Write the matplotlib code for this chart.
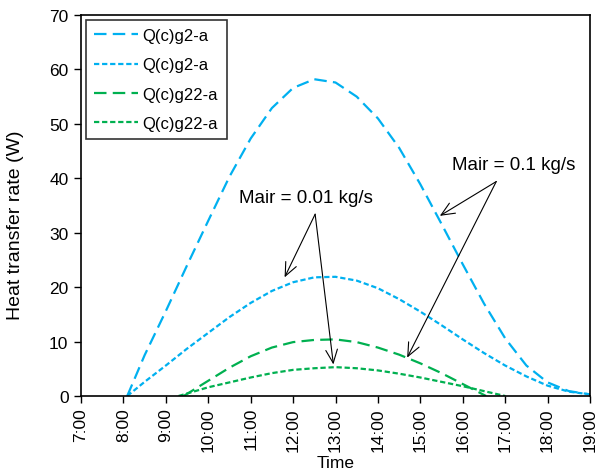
import matplotlib
matplotlib.use('Agg')
import matplotlib.pyplot as plt

plt.rcParams['font.family'] = ['Liberation Sans', 'DejaVu Sans']
plt.rcParams['font.size'] = 12
plt.rcParams['lines.scale_dashes'] = False

## data (time in hours, heat transfer rate in W)
t_g2 = [8.09, 8.5, 9.0, 9.5, 10.0, 10.5, 11.0, 11.5, 12.0, 12.5, 13.0, 13.5, 14.0,
        14.5, 15.0, 15.5, 16.0, 16.5, 17.0, 17.5, 18.0, 18.5, 19.0]
q_g2_01 = [0, 7.5, 15.6, 24, 32.2, 40.3, 47.3, 52.9, 56.6, 58.2, 57.6, 55.0, 51.0,
           45.6, 38.9, 31.6, 24.2, 17.0, 10.6, 5.6, 2.5, 0.9, 0.3]
q_g2_001 = [0, 2.6, 5.6, 8.7, 11.6, 14.5, 17.1, 19.3, 20.9, 21.8, 21.9, 21.2, 19.8,
            17.8, 15.5, 13.0, 10.4, 7.9, 5.6, 3.6, 1.9, 0.8, 0.3]

t_g22_01 = [9.42, 10.0, 10.5, 11.0, 11.5, 12.0, 12.5, 13.0, 13.5, 14.0, 14.5, 15.0,
            15.5, 16.0, 16.55]
q_g22_01 = [0, 2.8, 5.2, 7.3, 8.9, 9.9, 10.3, 10.4, 9.9, 8.9, 7.6, 6.0,
            4.2, 2.2, 0]

t_g22_001 = [9.3, 10.0, 10.5, 11.0, 11.5, 12.0, 12.5, 13.0, 13.5, 14.0, 14.5, 15.0,
             15.5, 16.0, 16.5, 17.0]
q_g22_001 = [0, 1.6, 2.5, 3.4, 4.2, 4.8, 5.1, 5.3, 5.1, 4.7, 4.1, 3.4,
             2.6, 1.8, 0.9, 0]

hours = list(range(7, 20))
hour_labels = ['%d:00' % h for h in hours]

blue = '#00B0F0'
green = '#00B050'
long_dash = (9, 4.5)
short_dash = (3.8, 2)

fig = plt.figure(figsize=(5.96, 4.77), dpi=100)
ax = fig.add_axes([81 / 596, 1 - 397 / 477, 509 / 596, 381 / 477])

ax.plot(t_g2, q_g2_01, color=blue, lw=1.6, dashes=long_dash, label='Q(c)g2-a')
ax.plot(t_g2, q_g2_001, color=blue, lw=1.6, dashes=short_dash, label='Q(c)g2-a')
ax.plot(t_g22_01, q_g22_01, color=green, lw=1.6, dashes=long_dash, label='Q(c)g22-a')
ax.plot(t_g22_001, q_g22_001, color=green, lw=1.6, dashes=short_dash, label='Q(c)g22-a')

ax.set_xlim(7, 19)
ax.set_ylim(0, 70)
ax.set_xticks(hours)
ax.set_xticklabels(hour_labels, rotation=90)
ax.set_yticks(range(0, 71, 10))
ax.tick_params(direction='out', length=5, width=1, labelsize=12.5)
ax.tick_params(axis='x', pad=3)
ax.tick_params(axis='y', pad=4)
for s in ax.spines.values():
    s.set_linewidth(1.2)
ax.set_xlabel('Time', fontsize=12.5, labelpad=3)
ax.set_ylabel('Heat transfer rate (W)', fontsize=14)
# label anchor is its right edge once rotated
ax.yaxis.set_label_coords(-0.112, 0.45)

leg = ax.legend(loc='upper left', frameon=True, fancybox=False, edgecolor='black',
                handlelength=2.6, handletextpad=0.3, borderpad=0.5,
                labelspacing=0.85, borderaxespad=0.3, fontsize=12)
leg.get_frame().set_linewidth(1.2)

arr = dict(arrowstyle='->,head_length=0.8,head_width=0.35', color='black', lw=0.8,
           shrinkA=0, shrinkB=0)
ax.text(12.3, 36.5, 'Mair = 0.01 kg/s', ha='center', va='center', fontsize=13.5)
ax.annotate('', xy=(11.80, 21.8), xytext=(12.52, 33.4), arrowprops=arr)
ax.annotate('', xy=(12.95, 5.8), xytext=(12.52, 33.4), arrowprops=arr)
ax.text(17.21, 42.5, 'Mair = 0.1 kg/s', ha='center', va='center', fontsize=13.5)
ax.annotate('', xy=(15.46, 33.1), xytext=(16.79, 39.4), arrowprops=arr)
ax.annotate('', xy=(14.69, 7.05), xytext=(16.79, 39.4), arrowprops=arr)

plt.savefig('out.png', dpi=100)
